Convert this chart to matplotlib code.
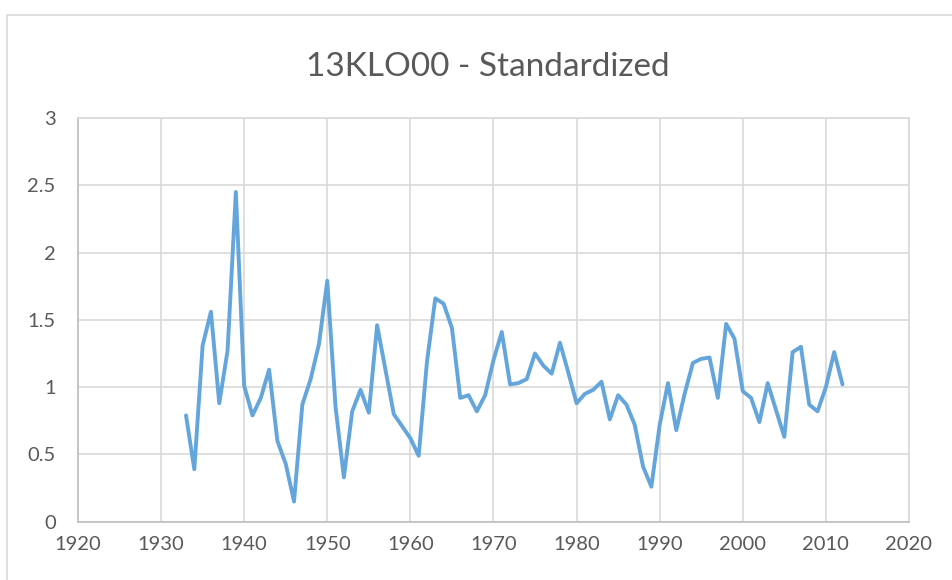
import matplotlib
matplotlib.use("Agg")
import matplotlib.pyplot as plt
from matplotlib.patches import Rectangle

# --- Data ---
years = list(range(1933, 2013))
values = [
    0.79, 0.39, 1.31, 1.56, 0.88, 1.27, 2.45, 1.01, 0.79, 0.92,  # 1933-1942
    1.13, 0.60, 0.43, 0.15, 0.87, 1.06, 1.32, 1.79, 0.85, 0.33,  # 1943-1952
    0.82, 0.98, 0.81, 1.46, 1.13, 0.80, 0.71, 0.62, 0.49, 1.19,  # 1953-1962
    1.66, 1.62, 1.44, 0.92, 0.94, 0.82, 0.94, 1.20, 1.41, 1.02,  # 1963-1972
    1.03, 1.06, 1.25, 1.16, 1.10, 1.33, 1.11, 0.88, 0.95, 0.98,  # 1973-1982
    1.04, 0.76, 0.94, 0.87, 0.72, 0.41, 0.26, 0.72, 1.03, 0.68,  # 1983-1992
    0.95, 1.18, 1.21, 1.22, 0.92, 1.47, 1.36, 0.97, 0.92, 0.74,  # 1993-2002
    1.03, 0.83, 0.63, 1.26, 1.30, 0.87, 0.82, 1.00, 1.26, 1.02,  # 2003-2012
]
x_ticks = list(range(1920, 2021, 10))
y_ticks = [0, 0.5, 1, 1.5, 2, 2.5, 3]
y_labels = ["0", "0.5", "1", "1.5", "2", "2.5", "3"]
title = "13KLO00 - Standardized"

# --- Style ---
plt.rcParams["font.family"] = ["Lato", "DejaVu Sans"]
text_color = "#595959"
grid_color = "#D9D9D9"
line_color = "#64A6DB"

fig = plt.figure(figsize=(9.52, 5.8), dpi=100)
ax = fig.add_axes([0.0819, 0.1005, 0.8729, 0.6961])

# chart area border (cropped at right and bottom in the reference)
fig.patches.append(Rectangle((7 / 952, -0.1), 1.2, 1 - 15 / 580 + 0.1,
                             transform=fig.transFigure, fill=False,
                             edgecolor=grid_color, linewidth=1.2))

ax.plot(years, values, color=line_color, linewidth=2.8,
        solid_joinstyle="round", solid_capstyle="round")

ax.set_xlim(1920, 2020)
ax.set_ylim(0, 3)
ax.set_xticks(x_ticks)
ax.set_yticks(y_ticks)
ax.set_yticklabels(y_labels)
ax.grid(True, color=grid_color, linewidth=1.2)
ax.set_axisbelow(True)
ax.tick_params(length=0, labelsize=14.5, labelcolor=text_color)
ax.tick_params(axis="x", pad=10)
ax.tick_params(axis="y", pad=16)

for side in ["top", "right"]:
    ax.spines[side].set_color(grid_color)
    ax.spines[side].set_linewidth(1.2)
for side in ["bottom", "left"]:
    ax.spines[side].set_color("#BFBFBF")
    ax.spines[side].set_linewidth(1.2)

fig.text(0.512, 1 - 76 / 580, title, ha="center", va="baseline",
         fontsize=24, color=text_color)

fig.savefig("out.png", dpi=100)
plt.close(fig)
